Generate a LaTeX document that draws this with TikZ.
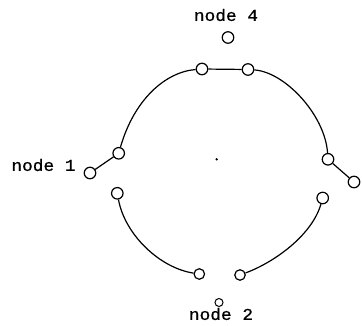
\documentclass[tikz,border=0pt]{standalone}
\usepackage{fontspec}
\usepackage{graphicx}
\newfontfamily\typer[FakeBold=0.8]{Liberation Mono}
\begin{document}
\begin{tikzpicture}[x=1pt,y=-1pt,
  port/.style={circle,draw,line width=1.2pt,minimum size=11.5pt,inner sep=0pt},
  smallport/.style={port,minimum size=8pt,line width=1pt},
  lbl/.style={font=\typer\fontsize{16.5}{16.5}\selectfont,inner sep=0pt},
  link/.style={line width=1.2pt}]
\useasboundingbox (0,0) rectangle (362,326);
% labels
\node[lbl] (l4) at (226,15) {\scalebox{1.08}[1]{node 4}};
\node[lbl] (l1) at (43.5,165) {\scalebox{1.08}[1]{node 1}};
\node[lbl] (l2) at (221,314) {\scalebox{1.08}[1]{node 2}};
% ports
\node[port] (n4) at (228,37.5) {};
\node[port] (tl) at (202,69) {};
\node[port] (tr) at (248,69.5) {};
\node[port] (la) at (118.7,153.3) {};
\node[port] (n1) at (90,173) {};
\node[port] (ra) at (328,159.3) {};
\node[port] (rn) at (354,182) {};
\node[port] (lb) at (117.3,193.3) {};
\node[port] (rb) at (322.7,198) {};
\node[port,minimum size=10.5pt] (bl) at (199.3,274) {};
\node[port,minimum size=10.5pt] (br) at (240,275) {};
\node[smallport] (n2) at (219,302.5) {};
% centre mark
\fill (216.7,159.3) circle (1.3pt);
% connectors
\draw[link] (tl) -- (tr);
\draw[link] (la) .. controls (134,100) and (165,72) .. (tl);
\draw[link] (tr) .. controls (285,72) and (325,115) .. (ra);
\draw[link] (la) -- (n1);
\draw[link] (ra) -- (rn);
\draw[link] (lb) .. controls (125,235) and (160,268) .. (bl);
\draw[link] (br) .. controls (275,262) and (312,235) .. (rb);
\end{tikzpicture}
\end{document}
